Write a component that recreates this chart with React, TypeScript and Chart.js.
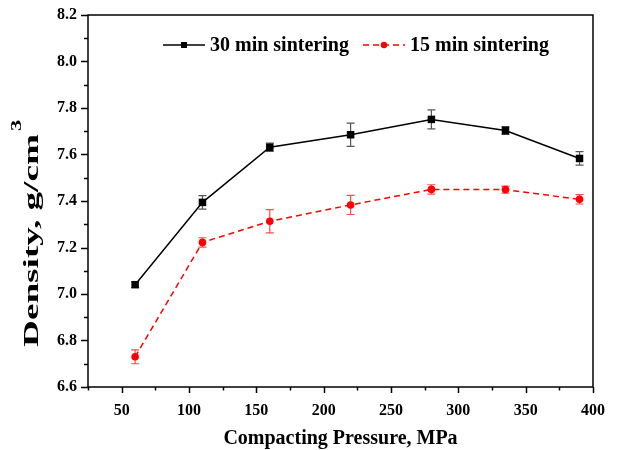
import React, { useEffect, useRef } from 'react';
import { Chart, registerables } from 'chart.js';

Chart.register(...registerables);

const pressures = [60, 110, 160, 220, 280, 335, 390];
const density30 = [7.04, 7.394, 7.631, 7.685, 7.751, 7.703, 7.583];
const err30 = [0.012, 0.029, 0.018, 0.05, 0.041, 0.017, 0.029];
const density15 = [6.73, 7.222, 7.313, 7.383, 7.45, 7.449, 7.407];
const err15 = [0.03, 0.02, 0.05, 0.041, 0.02, 0.015, 0.02];
const xTickValues = [50, 100, 150, 200, 250, 300, 350, 400];
const yTickValues = [6.6, 6.8, 7.0, 7.2, 7.4, 7.6, 7.8, 8.0, 8.2];
const seriesLabels = ['30 min sintering', '15 min sintering'];
const xTitle = 'Compacting Pressure, MPa';
const yTitle = 'Density, g/cm';
const yTitleSup = '3';

const FONT = '"Liberation Serif", "Times New Roman", serif';

const errorBars = [err30, err15];
const errColors = ['#555555', '#ff4a4a'];

const framePlugin = {
  id: 'frameAndTicks',
  afterDraw(chart: any) {
    const { ctx, chartArea } = chart;
    const { left, right, top, bottom } = chartArea;
    const xs = chart.scales.x;
    const ys = chart.scales.y;
    ctx.save();
    ctx.strokeStyle = '#000';
    ctx.lineWidth = 1.5;
    ctx.strokeRect(left, top, right - left, bottom - top);
    ctx.lineWidth = 1.5;
    for (let v = xs.min; v <= xs.max + 1e-9; v += 25) {
      const px = Math.round(xs.getPixelForValue(v)) + 0.5;
      const major = Math.abs(v % 50) < 1e-9;
      ctx.beginPath();
      ctx.moveTo(px, bottom);
      ctx.lineTo(px, bottom + (major ? 6 : 3.5));
      ctx.stroke();
    }
    for (let i = 0; i <= 16; i++) {
      const v = ys.min + i * 0.1;
      const py = Math.round(ys.getPixelForValue(v)) + 0.5;
      const major = i % 2 === 0;
      ctx.beginPath();
      ctx.moveTo(left, py);
      ctx.lineTo(left - (major ? 7 : 4), py);
      ctx.stroke();
    }
    ctx.fillStyle = '#000';
    ctx.font = `bold 20px ${FONT}`;
    ctx.textAlign = 'center';
    ctx.textBaseline = 'alphabetic';
    ctx.fillText(xTitle, (left + right) / 2, 444);

    // y title rotated, stretched along its length, with superscript
    ctx.save();
    ctx.translate(38, 347);
    ctx.rotate(-Math.PI / 2);
    ctx.font = `bold 20px ${FONT}`;
    ctx.textAlign = 'left';
    const w1 = ctx.measureText(yTitle).width;
    const len = 213;
    const s = len / w1;
    ctx.save();
    ctx.scale(s, 1);
    ctx.fillText(yTitle, 0, 0);
    ctx.restore();
    ctx.save();
    ctx.font = `bold 14px ${FONT}`;
    ctx.translate(len + 3, -17);
    ctx.scale(1.6, 1);
    ctx.fillText(yTitleSup, 0, 0);
    ctx.restore();
    ctx.restore();

    const ly = 45;
    const items = [
      { x: 163, color: '#000', dash: [] as number[], shape: 'rect' },
      { x: 363, color: '#ff0000', dash: [6, 4], shape: 'circle' },
    ];
    items.forEach((it, i) => {
      ctx.save();
      ctx.strokeStyle = it.color;
      ctx.lineWidth = 1.5;
      ctx.setLineDash(it.dash);
      ctx.beginPath();
      ctx.moveTo(it.x, ly);
      ctx.lineTo(it.x + 42, ly);
      ctx.stroke();
      ctx.setLineDash([]);
      ctx.fillStyle = it.color;
      if (it.shape === 'rect') {
        ctx.fillRect(it.x + 21 - 3, ly - 3, 6, 6);
      } else {
        ctx.beginPath();
        ctx.arc(it.x + 21, ly, 3.2, 0, Math.PI * 2);
        ctx.fill();
      }
      ctx.fillStyle = '#000';
      ctx.font = `bold 20px ${FONT}`;
      ctx.textAlign = 'left';
      ctx.textBaseline = 'middle';
      ctx.fillText(seriesLabels[i], it.x + 47, ly + 1);
      ctx.restore();
    });
    ctx.restore();
  },
};

const errorBarPlugin = {
  id: 'errorBars',
  beforeDatasetsDraw(chart: any) {
    const { ctx } = chart;
    const xs = chart.scales.x;
    const ys = chart.scales.y;
    ctx.save();
    chart.data.datasets.forEach((ds: any, i: number) => {
      ctx.strokeStyle = errColors[i];
      ctx.lineWidth = 1.2;
      ds.data.forEach((pt: any, j: number) => {
        const e = errorBars[i][j];
        const px = xs.getPixelForValue(pt.x);
        const yt = ys.getPixelForValue(pt.y + e);
        const yb = ys.getPixelForValue(pt.y - e);
        ctx.beginPath();
        ctx.moveTo(px, yt);
        ctx.lineTo(px, yb);
        ctx.moveTo(px - 4, yt);
        ctx.lineTo(px + 4, yt);
        ctx.moveTo(px - 4, yb);
        ctx.lineTo(px + 4, yb);
        ctx.stroke();
      });
    });
    ctx.restore();
  },
};

export default function App() {
  const ref = useRef<HTMLCanvasElement | null>(null);
  useEffect(() => {
    if (!ref.current) return;
    const chart = new Chart(ref.current, {
      type: 'line',
      data: {
        datasets: [
          {
            label: seriesLabels[0],
            data: pressures.map((p, i) => ({ x: p, y: density30[i] })),
            borderColor: '#000',
            backgroundColor: '#000',
            borderWidth: 1.5,
            pointStyle: 'rect',
            pointRadius: 5.3,
            pointBorderWidth: 0,
            tension: 0,
          },
          {
            label: seriesLabels[1],
            data: pressures.map((p, i) => ({ x: p, y: density15[i] })),
            borderColor: '#ff0000',
            backgroundColor: '#ff0000',
            borderWidth: 1.5,
            borderDash: [6, 4],
            pointStyle: 'circle',
            pointRadius: 3.8,
            pointBorderWidth: 0,
            tension: 0,
          },
        ],
      },
      options: {
        animation: false,
        responsive: true,
        maintainAspectRatio: false,
        layout: { padding: { top: 15, right: 24, left: 0, bottom: 0 } },
        plugins: { legend: { display: false }, tooltip: { enabled: false } },
        scales: {
          x: {
            type: 'linear',
            min: 25,
            max: 400,
            grid: { display: false, drawTicks: false },
            border: { display: false },
            afterBuildTicks: (s: any) => {
              s.ticks = xTickValues.map((v) => ({ value: v }));
            },
            afterFit: (s: any) => {
              s.height = 63;
              s.paddingLeft = 0;
              s.paddingRight = 0;
            },
            ticks: {
              color: '#000',
              padding: 14,
              maxRotation: 0,
              autoSkip: false,
              font: { family: FONT, size: 16, weight: 'bold' },
              callback: (v: any) => String(v),
            },
          },
          y: {
            type: 'linear',
            min: 6.6,
            max: 8.2,
            grid: { display: false, drawTicks: false },
            border: { display: false },
            afterBuildTicks: (s: any) => {
              s.ticks = yTickValues.map((v) => ({ value: v }));
            },
            afterFit: (s: any) => {
              s.width = 88;
              s.paddingTop = 0;
              s.paddingBottom = 0;
            },
            ticks: {
              color: '#000',
              padding: 11,
              autoSkip: false,
              font: { family: FONT, size: 16, weight: 'bold' },
              callback: (v: any) => Number(v).toFixed(1),
            },
          },
        },
      },
      plugins: [errorBarPlugin, framePlugin],
    });
    return () => chart.destroy();
  }, []);
  return (
    <div style={{ position: 'fixed', left: 0, top: 0, width: 617, height: 450, background: '#fff' }}>
      <canvas ref={ref} />
    </div>
  );
}
